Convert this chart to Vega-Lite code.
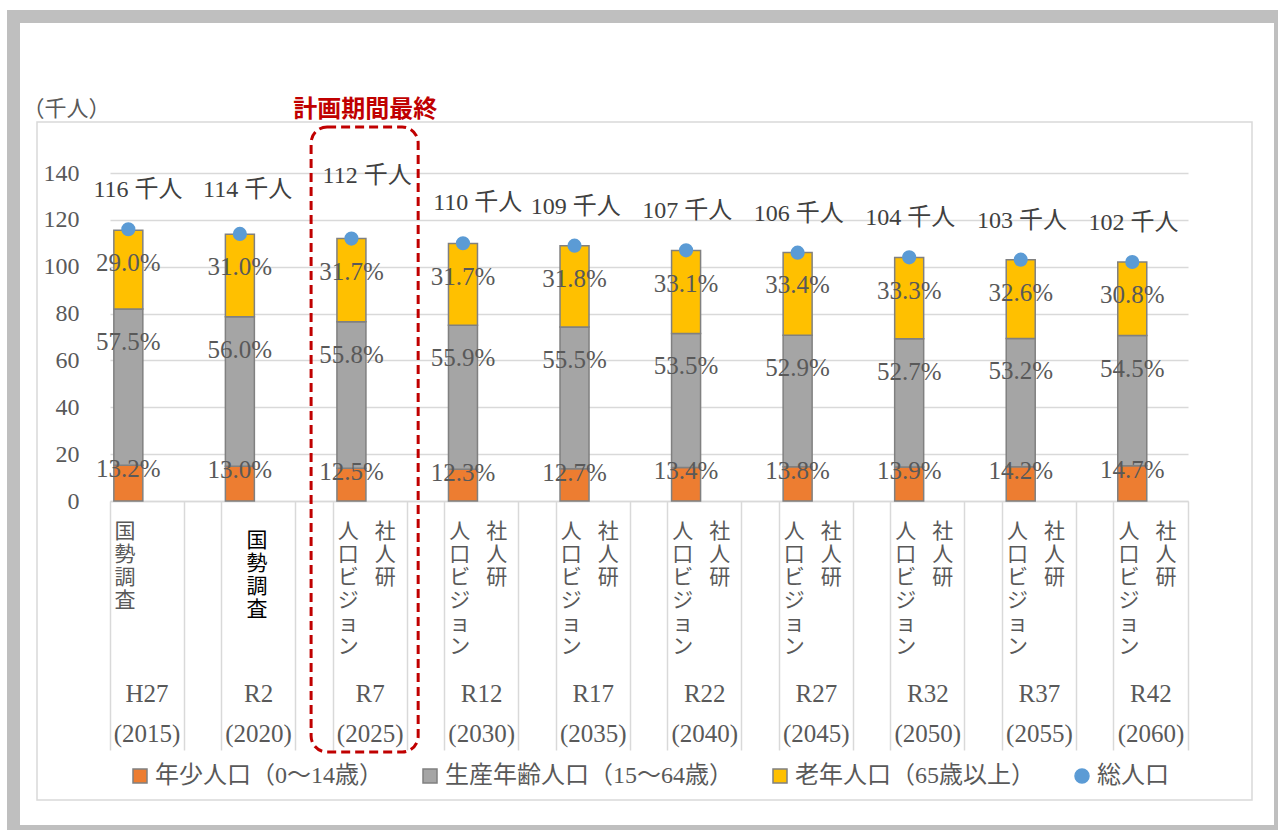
{
  "$schema": "https://vega.github.io/schema/vega-lite/v6.json",
  "autosize": {"type": "none"},
  "width": 1078,
  "height": 328,
  "padding": {"left": 110, "top": 173, "right": 90, "bottom": 329},
  "background": "white",
  "config": {
    "view": {"stroke": null},
    "font": "Liberation Serif, Noto Sans CJK JP",
    "axisY": {"grid": true, "gridColor": "#D9D9D9", "gridWidth": 1.5, "domain": false, "ticks": false, "labels": true,
      "labelFont": "Liberation Serif", "labelFontSize": 24, "labelColor": "#595959", "labelPadding": 31,
      "titleAngle": 0, "titleX": -88, "titleY": -65, "titleAlign": "left", "titleBaseline": "middle",
      "titleFont": "Noto Sans CJK JP", "titleFontSize": 22, "titleFontWeight": "normal", "titleColor": "#595959"}
  },
  "datasets": {
    "bars": [
      {"period": "H27 (2015)", "series": "年少人口（0～14歳）", "order": 1, "value": 15.3, "pct": "13.2%"},
      {"period": "H27 (2015)", "series": "生産年齢人口（15～64歳）", "order": 2, "value": 66.7, "pct": "57.5%"},
      {"period": "H27 (2015)", "series": "老年人口（65歳以上）", "order": 3, "value": 33.6, "pct": "29.0%"},
      {"period": "R2 (2020)", "series": "年少人口（0～14歳）", "order": 1, "value": 14.8, "pct": "13.0%"},
      {"period": "R2 (2020)", "series": "生産年齢人口（15～64歳）", "order": 2, "value": 63.8, "pct": "56.0%"},
      {"period": "R2 (2020)", "series": "老年人口（65歳以上）", "order": 3, "value": 35.3, "pct": "31.0%"},
      {"period": "R7 (2025)", "series": "年少人口（0～14歳）", "order": 1, "value": 14.0, "pct": "12.5%"},
      {"period": "R7 (2025)", "series": "生産年齢人口（15～64歳）", "order": 2, "value": 62.5, "pct": "55.8%"},
      {"period": "R7 (2025)", "series": "老年人口（65歳以上）", "order": 3, "value": 35.5, "pct": "31.7%"},
      {"period": "R12 (2030)", "series": "年少人口（0～14歳）", "order": 1, "value": 13.5, "pct": "12.3%"},
      {"period": "R12 (2030)", "series": "生産年齢人口（15～64歳）", "order": 2, "value": 61.5, "pct": "55.9%"},
      {"period": "R12 (2030)", "series": "老年人口（65歳以上）", "order": 3, "value": 34.9, "pct": "31.7%"},
      {"period": "R17 (2035)", "series": "年少人口（0～14歳）", "order": 1, "value": 13.8, "pct": "12.7%"},
      {"period": "R17 (2035)", "series": "生産年齢人口（15～64歳）", "order": 2, "value": 60.5, "pct": "55.5%"},
      {"period": "R17 (2035)", "series": "老年人口（65歳以上）", "order": 3, "value": 34.7, "pct": "31.8%"},
      {"period": "R22 (2040)", "series": "年少人口（0～14歳）", "order": 1, "value": 14.3, "pct": "13.4%"},
      {"period": "R22 (2040)", "series": "生産年齢人口（15～64歳）", "order": 2, "value": 57.2, "pct": "53.5%"},
      {"period": "R22 (2040)", "series": "老年人口（65歳以上）", "order": 3, "value": 35.4, "pct": "33.1%"},
      {"period": "R27 (2045)", "series": "年少人口（0～14歳）", "order": 1, "value": 14.6, "pct": "13.8%"},
      {"period": "R27 (2045)", "series": "生産年齢人口（15～64歳）", "order": 2, "value": 56.1, "pct": "52.9%"},
      {"period": "R27 (2045)", "series": "老年人口（65歳以上）", "order": 3, "value": 35.4, "pct": "33.4%"},
      {"period": "R32 (2050)", "series": "年少人口（0～14歳）", "order": 1, "value": 14.5, "pct": "13.9%"},
      {"period": "R32 (2050)", "series": "生産年齢人口（15～64歳）", "order": 2, "value": 54.8, "pct": "52.7%"},
      {"period": "R32 (2050)", "series": "老年人口（65歳以上）", "order": 3, "value": 34.6, "pct": "33.3%"},
      {"period": "R37 (2055)", "series": "年少人口（0～14歳）", "order": 1, "value": 14.6, "pct": "14.2%"},
      {"period": "R37 (2055)", "series": "生産年齢人口（15～64歳）", "order": 2, "value": 54.8, "pct": "53.2%"},
      {"period": "R37 (2055)", "series": "老年人口（65歳以上）", "order": 3, "value": 33.6, "pct": "32.6%"},
      {"period": "R42 (2060)", "series": "年少人口（0～14歳）", "order": 1, "value": 15.0, "pct": "14.7%"},
      {"period": "R42 (2060)", "series": "生産年齢人口（15～64歳）", "order": 2, "value": 55.6, "pct": "54.5%"},
      {"period": "R42 (2060)", "series": "老年人口（65歳以上）", "order": 3, "value": 31.4, "pct": "30.8%"}
    ],
    "totals": [
      {"period": "H27 (2015)", "series": "総人口", "total": 116, "label": "116 千人"},
      {"period": "R2 (2020)", "series": "総人口", "total": 114, "label": "114 千人"},
      {"period": "R7 (2025)", "series": "総人口", "total": 112, "label": "112 千人"},
      {"period": "R12 (2030)", "series": "総人口", "total": 110, "label": "110 千人"},
      {"period": "R17 (2035)", "series": "総人口", "total": 109, "label": "109 千人"},
      {"period": "R22 (2040)", "series": "総人口", "total": 107, "label": "107 千人"},
      {"period": "R27 (2045)", "series": "総人口", "total": 106, "label": "106 千人"},
      {"period": "R32 (2050)", "series": "総人口", "total": 104, "label": "104 千人"},
      {"period": "R37 (2055)", "series": "総人口", "total": 103, "label": "103 千人"},
      {"period": "R42 (2060)", "series": "総人口", "total": 102, "label": "102 千人"}
    ],
    "note": [
      {"period": "R7 (2025)", "note": "計画期間最終"}
    ]
  },
  "resolve": {"axis": {"x": "independent"}},
  "layer": [
    {
      "data": {"name": "note"},
      "mark": {"type": "rect", "filled": false, "stroke": "#BFBFBF", "strokeWidth": 13, "xOffset": -96.5, "x2Offset": 92.5, "yOffset": -156.5, "y2Offset": 330.5},
      "encoding": {
        "x": {"datum": "H27 (2015)", "bandPosition": 0, "type": "nominal", "axis": null, "scale": {"type": "band", "domain": ["H27 (2015)","R2 (2020)","R7 (2025)","R12 (2030)","R17 (2035)","R22 (2040)","R27 (2045)","R32 (2050)","R37 (2055)","R42 (2060)"], "paddingInner": 0.336, "paddingOuter": 0}},
        "x2": {"datum": "R42 (2060)", "bandPosition": 1},
        "y": {"datum": 140, "type": "quantitative", "scale": {"domain": [0, 140], "nice": false}},
        "y2": {"datum": 0}
      }
    },
    {
      "data": {"name": "note"},
      "mark": {"type": "rect", "filled": false, "stroke": "#D9D9D9", "strokeWidth": 1.5, "xOffset": -73, "x2Offset": 64, "yOffset": -51, "y2Offset": 299},
      "encoding": {
        "x": {"datum": "H27 (2015)", "bandPosition": 0, "type": "nominal", "axis": null},
        "x2": {"datum": "R42 (2060)", "bandPosition": 1},
        "y": {"datum": 140, "type": "quantitative"},
        "y2": {"datum": 0}
      }
    },
    {
      "data": {"name": "bars"},
      "mark": {"type": "bar", "width": 29, "xOffset": -18.7, "stroke": "#808080", "strokeWidth": 1.5},
      "encoding": {
        "x": {"field": "period", "type": "nominal", "sort": null,
          "scale": {"type": "band", "domain": ["H27 (2015)","R2 (2020)","R7 (2025)","R12 (2030)","R17 (2035)","R22 (2040)","R27 (2045)","R32 (2050)","R37 (2055)","R42 (2060)"], "paddingInner": 0.336, "paddingOuter": 0},
          "axis": {"orient": "bottom", "title": null, "domain": true, "domainColor": "#D9D9D9", "domainWidth": 1.5, "ticks": false, "grid": false,
            "labelExpr": "split(datum.value, ' ')", "labelFont": "Liberation Serif", "labelFontSize": 25, "labelColor": "#595959",
            "labelLineHeight": 40, "labelBaseline": "middle", "labelPadding": 192, "labelAngle": 0, "labelOverlap": false, "labelLimit": 0}},
        "y": {"field": "value", "type": "quantitative", "stack": "zero",
          "scale": {"domain": [0, 140], "nice": false},
          "axis": {"orient": "left", "values": [0, 20, 40, 60, 80, 100, 120, 140], "title": "（千人）", "labels": true, "labelOverlap": false}},
        "color": {"field": "series", "type": "nominal",
          "scale": {"domain": ["年少人口（0～14歳）", "生産年齢人口（15～64歳）", "老年人口（65歳以上）", "総人口"], "range": ["#ED7D31", "#A5A5A5", "#FFC000", "#5B9BD5"]},
          "legend": {"orient": "none", "legendX": 18, "legendY": 591, "direction": "horizontal", "title": null,
            "symbolType": "square", "symbolSize": 196, "symbolStrokeWidth": 1.5, "symbolStrokeColor": "#808080",
            "labelFont": "Liberation Serif, Noto Sans CJK JP", "labelFontSize": 24, "labelColor": "#595959", "labelOffset": 3,
            "columnPadding": 35, "padding": 0, "labelLimit": 0,
            "encode": {"symbols": {"update": {
              "shape": {"signal": "datum.value === '総人口' ? 'circle' : 'square'"},
              "stroke": {"signal": "datum.value === '総人口' ? '#5B9BD5' : '#808080'"}}}}}},
        "order": {"field": "order", "type": "quantitative"}
      }
    },
    {
      "data": {"name": "totals"},
      "mark": {"type": "point", "filled": true, "size": 200, "opacity": 1, "xOffset": -18.7},
      "encoding": {
        "x": {"field": "period", "type": "nominal", "sort": null,
          "axis": {"orient": "bottom", "title": null, "domain": false, "ticks": false, "grid": false,
            "labelExpr": "datum.value == 'H27 (2015)' || datum.value == 'R2 (2020)' ? ['国','勢','調','査'] : ['人','口','ビ','ジ','ョ','ン']",
            "labelFont": "Noto Sans CJK JP", "labelFontSize": 21, "labelLineHeight": 23, "labelBaseline": "top",
            "labelPadding": {"condition": {"test": "datum.value == 'R2 (2020)'", "value": 28}, "value": 19},
            "labelOffset": {"condition": {"test": "datum.value == 'R2 (2020)'", "value": -1.5}, "value": -22},
            "labelColor": {"condition": {"test": "datum.value == 'R2 (2020)'", "value": "#000000"}, "value": "#595959"},
            "labelAngle": 0, "labelOverlap": false, "labelLimit": 0}},
        "y": {"field": "total", "type": "quantitative"},
        "color": {"field": "series", "type": "nominal", "legend": null}
      }
    },
    {
      "data": {"name": "bars"},
      "transform": [
        {"stack": "value", "groupby": ["period"], "sort": [{"field": "order", "order": "ascending"}], "as": ["v0", "v1"]},
        {"filter": "datum.order == 1"}
      ],
      "mark": {"type": "text", "dx": -18.7, "dy": 4, "align": "center", "baseline": "middle", "font": "Liberation Serif", "fontSize": 25, "color": "#595959"},
      "encoding": {
        "x": {"field": "period", "type": "nominal", "sort": null,
          "axis": {"orient": "bottom", "title": null, "domain": false, "ticks": false, "grid": false,
            "labelExpr": "datum.value == 'H27 (2015)' || datum.value == 'R2 (2020)' ? '' : ['社','人','研']",
            "labelFont": "Noto Sans CJK JP", "labelFontSize": 21, "labelLineHeight": 23, "labelBaseline": "top",
            "labelPadding": 19, "labelOffset": 15, "labelColor": "#595959",
            "labelAngle": 0, "labelOverlap": false, "labelLimit": 0}},
        "y": {"field": "v1", "type": "quantitative"},
        "text": {"field": "pct"}
      }
    },
    {
      "data": {"name": "bars"},
      "transform": [
        {"stack": "value", "groupby": ["period"], "sort": [{"field": "order", "order": "ascending"}], "as": ["v0", "v1"]},
        {"filter": "datum.order > 1"}
      ],
      "mark": {"type": "text", "dx": -18.7, "dy": 33, "align": "center", "baseline": "middle", "font": "Liberation Serif", "fontSize": 25, "color": "#595959"},
      "encoding": {
        "x": {"field": "period", "type": "nominal", "sort": null,
          "axis": {"orient": "bottom", "title": null, "bandPosition": 0, "domain": false, "labels": false, "grid": false,
            "ticks": true, "tickSize": 249, "tickColor": "#D9D9D9", "tickWidth": 1.5}},
        "y": {"field": "v1", "type": "quantitative"},
        "text": {"field": "pct"}
      }
    },
    {
      "data": {"name": "note"},
      "mark": {"type": "rect", "filled": false, "stroke": "#C00000", "strokeWidth": 3, "strokeDash": [9, 5], "cornerRadius": 16,
        "xOffset": -22, "x2Offset": 11, "yOffset": -46, "y2Offset": 251},
      "encoding": {
        "x": {"field": "period", "type": "nominal", "bandPosition": 0,
          "axis": {"orient": "bottom", "title": null, "bandPosition": 1, "domain": false, "labels": false, "grid": false,
            "ticks": true, "tickSize": 249, "tickColor": "#D9D9D9", "tickWidth": 1.5}},
        "x2": {"field": "period", "bandPosition": 1},
        "y": {"datum": 140, "type": "quantitative"},
        "y2": {"datum": 0}
      }
    },
    {
      "data": {"name": "note"},
      "mark": {"type": "text", "dx": -5, "dy": -63, "align": "center", "baseline": "middle", "font": "Noto Sans CJK JP", "fontSize": 24, "fontWeight": "bold", "color": "#C00000"},
      "encoding": {
        "x": {"field": "period", "type": "nominal", "axis": null},
        "y": {"datum": 140, "type": "quantitative"},
        "text": {"field": "note"}
      }
    },
    {
      "data": {"name": "totals"},
      "transform": [{"filter": "datum.period == 'H27 (2015)'"}],
      "mark": {"type": "text", "dx": -9, "dy": -39, "align": "center", "baseline": "middle", "fontSize": 24, "color": "#404040"},
      "encoding": {
        "x": {"field": "period", "type": "nominal", "axis": null},
        "y": {"field": "total", "type": "quantitative"},
        "text": {"field": "label"}
      }
    },
    {
      "data": {"name": "totals"},
      "transform": [{"filter": "datum.period == 'R2 (2020)'"}],
      "mark": {"type": "text", "dx": -11, "dy": -44, "align": "center", "baseline": "middle", "fontSize": 24, "color": "#404040"},
      "encoding": {
        "x": {"field": "period", "type": "nominal", "axis": null},
        "y": {"field": "total", "type": "quantitative"},
        "text": {"field": "label"}
      }
    },
    {
      "data": {"name": "totals"},
      "transform": [{"filter": "datum.period == 'R7 (2025)'"}],
      "mark": {"type": "text", "dx": -3, "dy": -63, "align": "center", "baseline": "middle", "fontSize": 24, "color": "#404040"},
      "encoding": {
        "x": {"field": "period", "type": "nominal", "axis": null},
        "y": {"field": "total", "type": "quantitative"},
        "text": {"field": "label"}
      }
    },
    {
      "data": {"name": "totals"},
      "transform": [{"filter": "datum.period == 'R12 (2030)'"}],
      "mark": {"type": "text", "dx": -4, "dy": -40, "align": "center", "baseline": "middle", "fontSize": 24, "color": "#404040"},
      "encoding": {
        "x": {"field": "period", "type": "nominal", "axis": null},
        "y": {"field": "total", "type": "quantitative"},
        "text": {"field": "label"}
      }
    },
    {
      "data": {"name": "totals"},
      "transform": [{"filter": "datum.period != 'H27 (2015)' && datum.period != 'R2 (2020)' && datum.period != 'R7 (2025)' && datum.period != 'R12 (2030)'"}],
      "mark": {"type": "text", "dx": -17.5, "dy": -39, "align": "center", "baseline": "middle", "fontSize": 24, "color": "#404040"},
      "encoding": {
        "x": {"field": "period", "type": "nominal", "axis": null},
        "y": {"field": "total", "type": "quantitative"},
        "text": {"field": "label"}
      }
    }
  ]
}
